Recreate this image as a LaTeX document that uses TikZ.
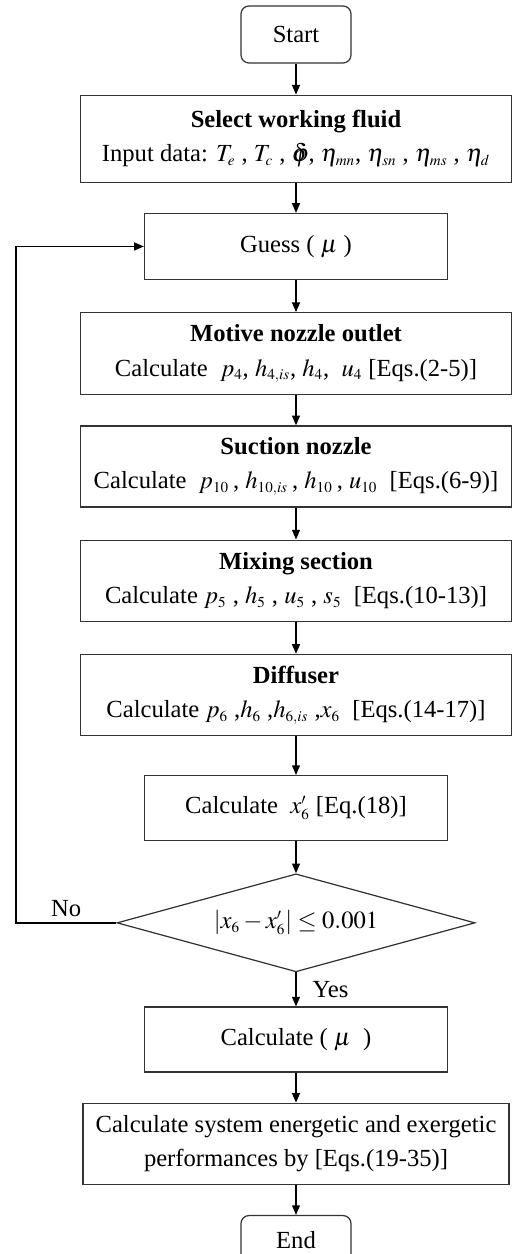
\documentclass[tikz,border=0pt]{standalone}
\usepackage{mathptmx}
\usepackage{fontspec}
\setmainfont{Liberation Serif}
\DeclareMathSizes{14}{14}{8.6}{7}
\usetikzlibrary{shapes.geometric,positioning,arrows.meta}

\begin{document}
\begin{tikzpicture}[
    node distance=0.6cm,
    terminal/.style={rectangle, rounded corners=0.16cm, draw=black!80, line width=0.7pt, minimum width=2.2cm, minimum height=1.14cm, font=\fontsize{14}{16}\selectfont},
    widebox/.style={rectangle, draw=black!80, line width=0.7pt, minimum width=8.62cm, minimum height=1.62cm, align=center, font=\fontsize{14}{19.5}\selectfont},
    narrowbox/.style={rectangle, draw=black!80, line width=0.7pt, minimum width=6.06cm, minimum height=1.3cm, align=center, font=\fontsize{14}{16}\selectfont},
    decision/.style={diamond, aspect=3.65, draw=black!80, line width=0.7pt, minimum width=7.16cm, minimum height=1.96cm, inner sep=0pt, font=\fontsize{14}{16}\selectfont},
    flow/.style={-{Triangle[length=5.5pt,width=4.5pt]}, line width=0.8pt},
    label/.style={font=\fontsize{14}{16}\selectfont}
]
\useasboundingbox (0,0) rectangle (10.28,-25.08);

% Start
\node[terminal] (start) at (5.92,-0.69) {Start};

% Input
\node[widebox, below=0.62cm of start, minimum height=1.74cm] (select) {\textbf{Select working fluid}\\Input data: $T_e$ , $T_c$ , \rlap{$\delta$}$\varphi$, $\eta_{mn}$, $\eta_{sn}$ , $\eta_{ms}$ , $\eta_d$};

% Iteration on entrainment ratio
\node[narrowbox, below=of select, minimum height=1.32cm] (guess) {Guess ( $\mu$ )};

\node[widebox, below=0.64cm of guess, minimum height=1.64cm] (motive) {\textbf{Motive nozzle outlet}\\Calculate \ $p_4$, $h_{4,is}$, $h_4$, \ $u_4$ [Eqs.(2-5)]};
\node[widebox, below=of motive] (suction) {\textbf{Suction nozzle}\\Calculate \ $p_{10}$\,, $h_{10,is}$\,, $h_{10}$\,, $u_{10}$ \ [Eqs.(6-9)]};
\node[widebox, below=0.64cm of suction] (mixing) {\textbf{Mixing section}\\Calculate $p_5$ , $h_5$ , $u_5$ , $s_5$ \ [Eqs.(10-13)]};
\node[widebox, below=0.64cm of mixing] (diffuser) {\textbf{Diffuser}\\Calculate $p_6$ ,$h_6$ ,$h_{6,is}$ ,$x_6$ \ [Eqs.(14-17)]};

\node[narrowbox, below=0.78cm of diffuser] (calcx) {Calculate \ $x'_6$ [Eq.(18)]};
\node[decision, below=0.64cm of calcx] (check) {$\left|x_6 - x'_6\right| \le 0.001$};

% Results
\node[narrowbox, below=0.68cm of check] (calcmu) {Calculate ( $\mu$ \ )};
\node[widebox, below=of calcmu, minimum width=8.52cm] (perf) {Calculate system energetic and exergetic\\performances by [Eqs.(19-35)]};
\node[terminal, below=of perf, minimum height=1.0cm] (end) {End};

% Flow arrows
\draw[flow] (start) -- (select);
\draw[flow] (select) -- (guess);
\draw[flow] (guess) -- (motive);
\draw[flow] (motive) -- (suction);
\draw[flow] (suction) -- (mixing);
\draw[flow] (mixing) -- (diffuser);
\draw[flow] (diffuser) -- (calcx);
\draw[flow] (calcx) -- (check);
\draw[flow] (check) -- node[label, right=0.2cm] (yes) {Yes} (calcmu);
\draw[flow] (calcmu) -- (perf);
\draw[flow] (perf) -- (end);

% Loop back
\draw[flow] (check.west) -- node[label, above] (no) {No} ++(-2.01,0) |- (guess.west);

\end{tikzpicture}
\end{document}
